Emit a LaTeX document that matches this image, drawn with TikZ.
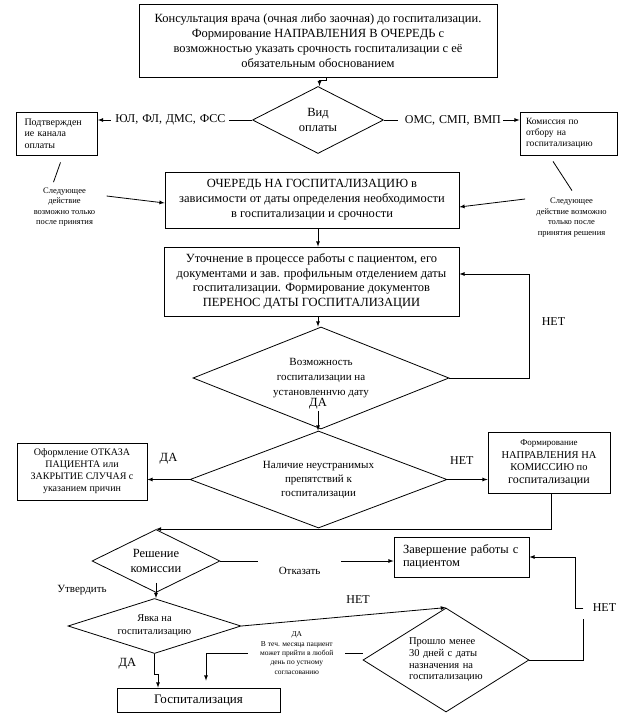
\documentclass[tikz,border=0pt]{standalone}
\usepackage{fontspec}
\setmainfont{Liberation Serif}
\usetikzlibrary{shapes.geometric}
\newcommand{\fsz}[2]{\fontsize{#1}{#2}\selectfont}

\begin{document}
\begin{tikzpicture}[x = 1pt, y = -1pt, thick, >=latex,
		main/.style = {draw, rectangle, inner sep = 0pt, align = center},
		cond/.style = {draw, diamond, inner sep = 0pt, align = center},
		note/.style = {inner sep = 0pt, align = center, font = \fsz{8.5}{10.5}},
		lbl/.style = {inner sep = 1pt, font = \fsz{12}{14}},
		gap/.style = {fill = white, inner sep = 2pt}]
	\useasboundingbox (0,0) rectangle (625,722);
	\node[main, minimum width = 358pt, minimum height = 73pt, font = \fsz{12.5}{15}] (1) at (318,40.5) {Консультация врача (очная либо заочная) до госпитализации.\\ Формирование НАПРАВЛЕНИЯ В ОЧЕРЕДЬ с\\ возможностью указать срочность госпитализации с её\\ обязательным обоснованием};
	\node[cond, minimum width = 131pt, minimum height = 67pt, aspect = 2, font = \fsz{12.5}{15}, node distance = 79.5pt, below of = 1] (2) {Вид\\ оплаты};
	\node[main, minimum width = 81pt, minimum height = 43pt, text width = 65pt, align = left, font = \fsz{10}{11.5}, node distance = 261pt, left of = 2, yshift = -13.5pt] (3) {Подтвержден\\ ие канала\\ оплаты};
	\node[main, minimum width = 97pt, minimum height = 43pt, text width = 85pt, align = left, font = \fsz{9.5}{11}, node distance = 250.5pt, right of = 2, yshift = -13.5pt] (4) {Комиссия по\\ отбору на\\ госпитализацию};
	\node[main, minimum width = 294pt, minimum height = 56pt, font = \fsz{12.5}{15}, node distance = 80pt, below of = 2, xshift = -6pt] (5) {ОЧЕРЕДЬ НА ГОСПИТАЛИЗАЦИЮ в\\ зависимости от даты определения необходимости\\ в госпитализации и срочности};
	\node[main, minimum width = 295pt, minimum height = 69pt, font = \fsz{12.5}{14.5}, node distance = 81.5pt, below of = 5, xshift = -0.5pt] (6) {Уточнение в процессе работы с пациентом, его\\ документами и зав. профильным отделением даты\\ госпитализации. Формирование документов\\ ПЕРЕНОС ДАТЫ ГОСПИТАЛИЗАЦИИ};
	\node[cond, minimum width = 256pt, minimum height = 102pt, aspect = 2.5, font = \fsz{11}{15}, node distance = 96.5pt, below of = 6, xshift = 9.5pt] (7) {Возможность\\ госпитализации на\\ установленнvю дату};
	\node[lbl, font = \fsz{12.5}{14}, node distance = 26pt, below of = 7, xshift = -3pt] (8) {ДА};
	\node[cond, minimum width = 257pt, minimum height = 97pt, aspect = 2.65, font = \fsz{11}{14}, node distance = 101.5pt, below of = 7, xshift = -2.5pt] (9) {Наличие неустранимых\\ препятствий к\\ госпитализации};
	\node[main, minimum width = 130pt, minimum height = 57pt, font = \fsz{10}{12}, node distance = 236.5pt, left of = 9, yshift = 8pt] (10) {Оформление ОТКАЗА\\ ПАЦИЕНТА или\\ ЗАКРЫТИЕ СЛУЧАЯ с\\ указанием причин};
	\node[main, minimum width = 122pt, minimum height = 61pt, font = \fsz{10.5}{12.5}, node distance = 230.5pt, right of = 9, yshift = 17pt] (11) {{\fsz{9}{12.5}Формирование}\\ НАПРАВЛЕНИЯ НА\\ КОМИССИЮ по\\ {\fsz{12}{12.5}госпитализации}};
	\node[cond, minimum width = 128pt, minimum height = 63pt, aspect = 2, font = \fsz{12.5}{15}, node distance = 81.5pt, below of = 9, xshift = -162.5pt] (12) {Решение\\ комиссии};
	\node[main, minimum width = 135pt, minimum height = 40pt, text width = 117pt, align = left, font = \fsz{12.5}{13}, node distance = 305.5pt, right of = 12, yshift = 4pt] (13) {Завершение работы с\\ пациентом};
	\node[cond, minimum width = 173pt, minimum height = 55pt, aspect = 3.15, font = \fsz{10.5}{13}, node distance = 65pt, below of = 12, xshift = -1.5pt] (14) {Явка на\\ госпитализацию};
	\node[cond, minimum width = 166pt, minimum height = 104pt, aspect = 1.6, text width = 74pt, align = left, font = \fsz{10.5}{11.7}, node distance = 103pt, below of = 13, xshift = -15.5pt] (15) {Прошло менее\\ 30 дней с даты\\ назначения на\\ госпитализацию};
	\node[main, minimum width = 163pt, minimum height = 24pt, font = \fsz{13}{15}, node distance = 74pt, below of = 14, xshift = 44pt] (16) {Госпитализация};
	\node[note, node distance = 73.5pt, below of = 3, xshift = 7.5pt] (17) {Следующее\\ действие\\ возможно только\\ после принятия};
	\node[note, node distance = 84pt, below of = 4, xshift = 3pt] (18) {Следующее\\ действие возможно\\ только после\\ принятия решения};
	\draw[->] ([xshift = 8pt]1.south) -- ++(0,3) -| ([xshift = 1.5pt]2.north);
	\draw[->] (2.west) -- (2.west -| 3.east) node[gap, pos = 0.53, text width = 114pt, align = center, font = \fsz{12}{14}] {ЮЛ, ФЛ, ДМС, ФСС};
	\draw[->] (2.east) -- (2.east -| 4.west) node[gap, pos = 0.49, text width = 101pt, align = right, font = \fsz{12}{14}] {ОМС, СМП, ВМП};
	\draw ([xshift = 3.5pt, yshift = -7pt]3.south) -- ([xshift = -11pt, yshift = 5pt]17.north);
	\draw[->] ([xshift = 11pt, yshift = 11pt]17.east) -- ([yshift = -3pt]5.west);
	\draw ([xshift = -15.5pt, yshift = -6pt]4.south) -- ([xshift = 0.5pt, yshift = 7pt]18.north);
	\draw[->] ([xshift = -11pt, yshift = 18.5pt]18.west) -- ([yshift = -7pt]5.east);
	\draw[->] (5.south -| 1) -- (6.north -| 1);
	\draw[->] (6.south -| 1) -- (7.north -| 1);
	\draw[->] (7.east) -- ++(80,0) |- ([yshift = 7.5pt]6.east) node[lbl, pos = 0.27, right = 11pt] {НЕТ};
	\draw[->] (8.south) -- (8.south |- 9.north);
	\draw[->] (9.west) -- (9.west -| 10.east) node[lbl, midway, above = 13.5pt, font = \fsz{12.5}{14}] {ДА};
	\draw[->] (9.east) -- (9.east -| 11.west) node[lbl, pos = 0.36, above = 13.5pt] {НЕТ};
	\draw[->] ([xshift = 2pt]11.south) |- (12.north);
	\draw[->] (12.east) -- (12.east -| 13.west) node[gap, pos = 0.457, minimum width = 83pt, minimum height = 26pt, yshift = -10pt, font = \fsz{11}{13}] {Отказать};
	\draw[->] ([yshift = 10pt]12.south) -- (12.south |- 14.north) node[lbl, midway, left = 48pt, font = \fsz{11}{13}] {Утвердить};
	\draw[->] (14.east) -- (15.north) node[lbl, pos = 0.57, above = 10.5pt] {НЕТ};
	\draw[->] (14.south) -- ++(0,20) node[lbl, midway, left = 17pt, font = \fsz{12.5}{14}] {ДА} -| ([xshift = -40.5pt]16.north);
	\draw[->] ([yshift = 7pt]15.west) -| ([xshift = 7.5pt, yshift = 7pt]16.north) node[gap, pos = 0.21, inner xsep = 12pt, align = center, font = \fsz{7.5}{9.3}] {ДА\\ В теч. месяца пациент\\ может прийти в любой\\ день по устному\\ согласованию};
	\draw (15.east) -- ++(54,0) -- ++(0,-41);
	\draw[->] ([xshift = 54pt, yshift = 52pt]15.east) node[lbl, right = 8pt] {НЕТ} -- ++(-8,0) |- (13.east);
\end{tikzpicture}
\end{document}
